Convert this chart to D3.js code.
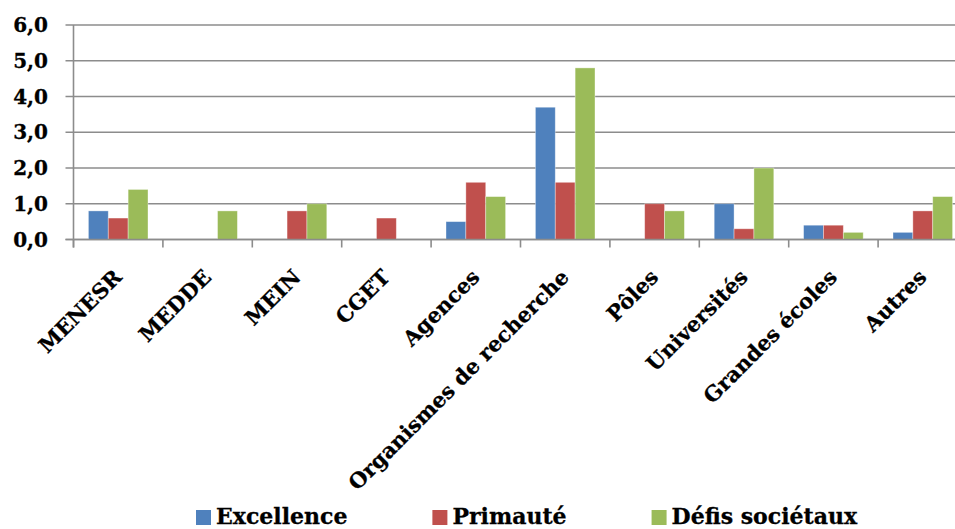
<!DOCTYPE html>
<html><head><meta charset="utf-8">
<script src="https://cdn.jsdelivr.net/npm/d3@7"></script>
<style>
html,body{margin:0;padding:0;background:#fff;}
svg{display:block;}
text{font-family:"DejaVu Serif",serif;font-weight:bold;fill:#000;}
</style></head>
<body>
<svg id="chart" width="955" height="529"></svg>
<script>
const categories = ["MENESR","MEDDE","MEIN","CGET","Agences","Organismes de recherche","Pôles","Universités","Grandes écoles","Autres"];
const seriesNames = ["Excellence","Primauté","Défis sociétaux"];
const excellence = [0.8, 0, 0, 0, 0.5, 3.7, 0, 1.0, 0.4, 0.2];
const primaute   = [0.6, 0, 0.8, 0.6, 1.6, 1.6, 1.0, 0.3, 0.4, 0.8];
const defis      = [1.4, 0.8, 1.0, 0, 1.2, 4.8, 0.8, 2.0, 0.2, 1.2];
const colors = ["#4F81BD","#C0504D","#9BBB59"];
const yTicks = [0,1,2,3,4,5,6];

const seriesValues = [excellence, primaute, defis];
const svg = d3.select("#chart");
const locale = d3.formatLocale({decimal:",", thousands:" ", grouping:[3], currency:["","€"]});
const fmt = locale.format(".1f");

const x0 = d3.scaleBand().domain(categories).range([73.5, 967.5]).paddingInner(0).paddingOuter(0);
const x1 = d3.scaleBand().domain(seriesNames).range([0, x0.bandwidth()]).paddingInner(0).paddingOuter(0.75);
const y = d3.scaleLinear().domain([0,6]).range([239.5, 25]);

// gridlines
svg.append("g").selectAll("line").data(yTicks).join("line")
  .attr("x1", 65.5).attr("x2", 955)
  .attr("y1", d=>y(d)).attr("y2", d=>y(d))
  .attr("stroke", "#8c8c8c").attr("stroke-width", 1.6);

// y axis line
svg.append("line").attr("x1",73.5).attr("x2",73.5).attr("y1",y(6)).attr("y2",y(0)+8)
  .attr("stroke","#8c8c8c").attr("stroke-width",1.6);

// x tick marks at category boundaries
const bounds = categories.map(c=>x0(c)).concat([x0(categories[categories.length-1])+x0.bandwidth()]);
svg.append("g").selectAll("line").data(bounds).join("line")
  .attr("x1",d=>d).attr("x2",d=>d).attr("y1",y(0)).attr("y2",y(0)+8)
  .attr("stroke","#8c8c8c").attr("stroke-width",1.6);

// y labels
svg.append("g").selectAll("text").data(yTicks).join("text")
  .attr("x", 48).attr("y", d=>y(d)).attr("dy","0.36em")
  .attr("text-anchor","end").style("font-size","20px").style("stroke","#000").style("stroke-width","0.3px")
  .text(d=>fmt(d));

// bars
const data = [];
categories.forEach((c,i)=>{
  seriesNames.forEach((s,j)=>{
    data.push({c, s, v: seriesValues[j][i], color: colors[j]});
  });
});
svg.append("g").selectAll("rect").data(data.filter(d=>d.v>0)).join("rect")
  .attr("x", d=>x0(d.c)+x1(d.s))
  .attr("width", x1.bandwidth())
  .attr("y", d=>y(d.v))
  .attr("height", d=>y(0)-y(d.v))
  .attr("fill", d=>d.color)
  .attr("stroke","rgba(255,255,255,0.45)").attr("stroke-width",0.8);

// redraw baseline over bars
svg.append("line").attr("x1",65.5).attr("x2",955).attr("y1",y(0)).attr("y2",y(0))
  .attr("stroke","#8c8c8c").attr("stroke-width",1.6);

// category labels
svg.append("g").selectAll("text").data(categories).join("text")
  .attr("transform", d=>`translate(${x0(d)+x0.bandwidth()/2+5},${y(0)+39}) rotate(-45)`)
  .attr("text-anchor","end").style("font-size","21px").style("stroke","#000").style("stroke-width","0.3px")
  .text(d=>d);

// legend
const leg = svg.append("g");
let lx = 196;
seriesNames.forEach((s,j)=>{
  leg.append("rect").attr("x",lx).attr("y",510).attr("width",15).attr("height",15).attr("fill",colors[j]);
  const t = leg.append("text").attr("x",lx+20).attr("y",524).style("font-size","22px").style("stroke","#000").style("stroke-width","0.3px").text(s);
  const w = t.node().getComputedTextLength();
  lx = lx + 20 + w + 85;
});
</script>
</body></html>
